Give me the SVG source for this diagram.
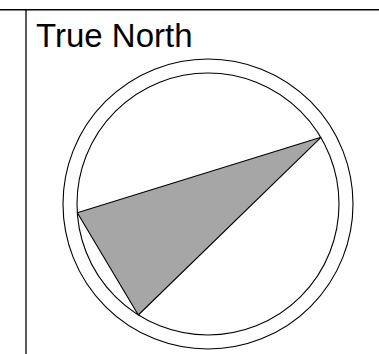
<svg xmlns="http://www.w3.org/2000/svg" width="379" height="354" viewBox="0 0 379 354">
<style>
.ln{stroke:#000;fill:none}
.ring{stroke:#000;stroke-width:1.1;fill:none}
.lbl{font-family:"Liberation Sans",Arial,sans-serif;font-size:33px;fill:#000}
</style>
<rect width="379" height="354" fill="#fff"/>
<g id="frame">
<line class="ln" x1="0" y1="9.8" x2="379" y2="9.8" stroke-width="1.6"/>
<line class="ln" x1="26" y1="9" x2="26" y2="354" stroke-width="1.3"/>
</g>
<g id="title">
<text class="lbl" x="36" y="46.5">True North</text>
</g>
<g id="compass">
<circle class="ring" cx="208" cy="204" r="145"/>
<circle class="ring" cx="208" cy="204" r="131"/>
<polygon points="77.3,212.7 321,137.3 138.3,315" fill="#a6a6a6" stroke="#000" stroke-width="1.1" stroke-linejoin="round"/>
</g>
</svg>
